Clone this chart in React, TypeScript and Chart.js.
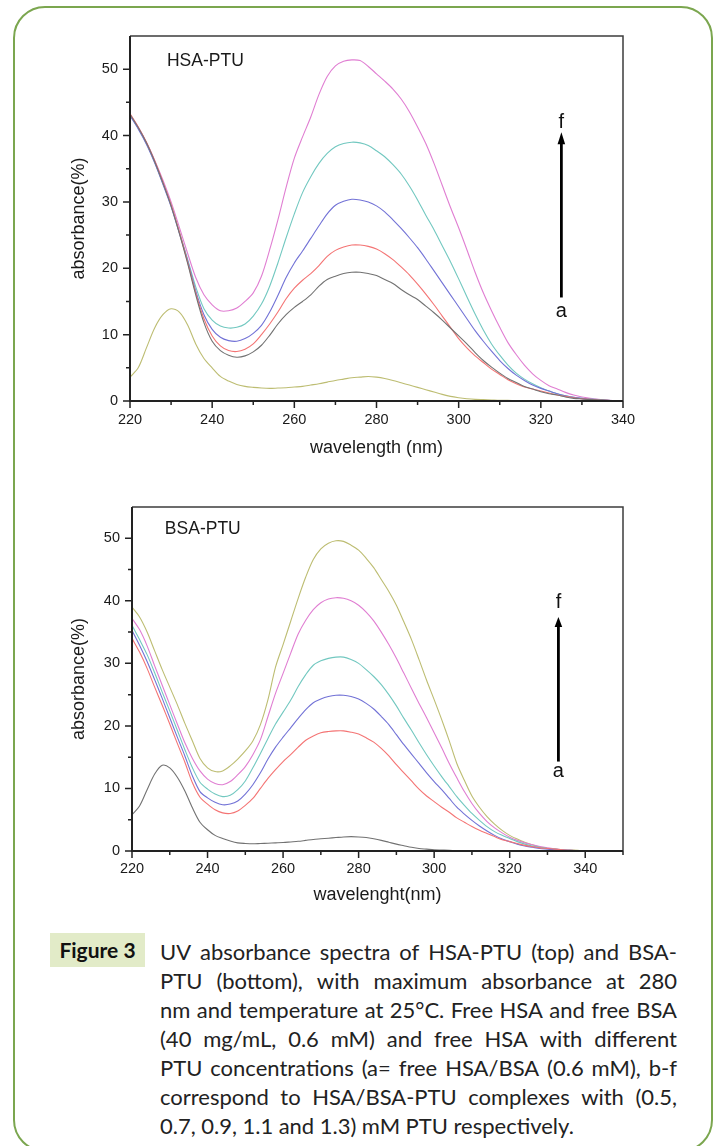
import React, { useEffect, useRef } from "react";
import { Chart, registerables } from "chart.js";

Chart.register(...registerables);

// ---------------- DATA ----------------
const wavelengths = [
  220, 222, 224, 226, 228, 230, 232, 234, 236, 238,
  240, 242, 244, 246, 248, 250, 252, 254, 256, 258,
  260, 262, 264, 266, 268, 270, 272, 274, 276, 278,
  280, 282, 284, 286, 288, 290, 292, 294, 296, 298,
  300, 302, 304, 306, 308, 310, 312, 314, 316, 318,
  320, 322, 324, 326, 328, 330, 332, 334, 336, 338,
  340,
];

// HSA-PTU (top panel)
const hsaA = [
  43.2, 41.2, 38.9, 36.1, 32.9, 29.4, 25.3, 20.8, 16.0, 11.8,
  9.0, 7.6, 6.9, 6.6, 6.8, 7.4, 8.4, 9.9, 11.6, 13.0,
  14.1, 15.0, 16.0, 17.3, 18.3, 18.8, 19.2, 19.4, 19.4, 19.2,
  18.9, 18.3, 17.7, 16.8, 16.0, 15.3, 14.3, 13.3, 12.2, 11.0,
  9.8, 8.6, 7.3, 6.1, 5.1, 4.2, 3.4, 2.8, 2.2, 1.8,
  1.4, 1.1, 0.9, 0.6, 0.4, 0.3, 0.2, 0.15, 0.1, 0.05,
  0,
];
const hsaB = [
  43.3, 41.3, 39.0, 36.2, 33.0, 29.6, 25.5, 21.0, 16.3, 12.4,
  9.8, 8.3, 7.6, 7.45, 7.8, 8.6, 10.0, 11.6, 13.4, 15.4,
  17.0, 18.2, 19.2, 20.4, 21.8, 22.7, 23.2, 23.5, 23.5, 23.3,
  22.9, 22.2, 21.3, 20.2, 19.0, 17.6, 16.1, 14.5, 12.8, 11.1,
  9.4, 8.0, 6.8, 5.8, 4.8, 4.0, 3.2, 2.6, 2.1, 1.8,
  1.5, 1.2, 0.9, 0.7, 0.5, 0.35, 0.25, 0.15, 0.1, 0.05,
  0,
];
const hsaC = [
  43.0, 41.0, 38.7, 35.9, 32.7, 29.3, 25.3, 21.2, 16.6, 13.0,
  10.8, 9.6, 9.1, 9.0, 9.4, 10.2, 11.4, 13.4, 15.9, 18.6,
  20.8, 22.6, 24.5, 26.4, 28.2, 29.5, 30.1, 30.4, 30.3, 30.0,
  29.4, 28.5, 27.3, 26.0, 24.6, 23.1, 21.4, 19.6, 17.8, 16.0,
  14.2, 12.4, 10.6, 9.0, 7.5, 6.1, 4.9, 3.9, 3.1, 2.4,
  1.9, 1.5, 1.1, 0.8, 0.55, 0.4, 0.25, 0.15, 0.1, 0.05,
  0,
];
const hsaD = [
  43.1, 41.1, 38.8, 36.0, 32.8, 29.5, 25.5, 21.4, 17.2, 13.9,
  12.2, 11.3, 11.0, 11.1, 11.6, 12.8, 14.6, 17.3, 20.8, 24.6,
  28.2, 31.4, 33.8, 35.8, 37.3, 38.3, 38.8, 39.0, 38.9, 38.5,
  37.7, 36.8, 35.6, 34.2, 32.4, 30.3, 28.0, 25.8, 23.4, 21.0,
  18.4, 15.7, 13.1, 10.7, 8.6, 6.9, 5.4, 4.2, 3.3, 2.6,
  2.0, 1.5, 1.1, 0.8, 0.55, 0.4, 0.3, 0.2, 0.1, 0.05,
  0,
];
const hsaE = [
  43.2, 41.3, 39.0, 36.3, 33.3, 30.0, 26.2, 22.3, 18.6, 16.0,
  14.5, 13.6, 13.6, 14.0, 15.0, 16.3, 18.8, 22.8, 27.3, 32.2,
  36.6, 39.8, 42.8, 46.2, 48.9, 50.5, 51.2, 51.4, 51.3, 50.4,
  49.3, 48.2, 47.0, 45.5, 43.6, 41.3, 38.8, 35.8, 32.5, 29.2,
  26.1, 22.8, 19.4, 16.3, 13.6, 11.1, 8.8, 7.0, 5.4, 4.1,
  3.1, 2.3, 1.8, 1.3, 0.9, 0.6, 0.4, 0.25, 0.15, 0.05,
  0,
];
const hsaLow = [
  3.6, 5.0, 8.0, 11.0, 13.0, 13.9, 13.4, 11.5, 8.6, 6.4,
  5.0, 3.7, 3.0, 2.5, 2.2, 2.05, 1.95, 1.9, 1.95, 2.0,
  2.1, 2.2, 2.4, 2.6, 2.85, 3.1, 3.3, 3.5, 3.6, 3.7,
  3.6, 3.4, 3.1, 2.75, 2.4, 2.05, 1.7, 1.35, 1.0, 0.7,
  0.5, 0.35, 0.25, 0.2, 0.15, 0.1, 0.1, 0.05, 0.05, 0,
  0, 0, 0, 0, 0, 0, 0, 0, 0, 0,
  0,
];

// BSA-PTU (bottom panel)
const bsaLow = [
  5.8, 7.2, 9.8, 12.3, 13.7, 13.3, 11.8, 9.6, 6.9, 4.6,
  3.4, 2.5, 2.0, 1.6, 1.3, 1.2, 1.15, 1.2, 1.25, 1.3,
  1.35, 1.45, 1.55, 1.7, 1.85, 1.95, 2.05, 2.15, 2.25, 2.3,
  2.25, 2.15, 1.95, 1.7, 1.4, 1.1, 0.85, 0.6, 0.4, 0.3,
  0.2, 0.15, 0.1, 0, 0, 0, 0, 0, 0, 0,
  0, 0, 0, 0, 0, 0, 0, 0, 0, 0,
  0,
];
const bsaB = [
  34.0, 31.8, 29.2, 26.2, 23.3, 20.3, 17.2, 14.2, 10.9, 8.6,
  7.5, 6.6, 6.1, 6.0, 6.4, 7.3, 8.4, 10.0, 11.6, 13.0,
  14.3, 15.4, 16.6, 17.7, 18.4, 18.9, 19.1, 19.2, 19.2, 19.0,
  18.7, 18.1, 17.4, 16.4, 15.2, 13.8, 12.5, 11.2, 9.9, 8.8,
  7.9, 7.0, 6.2, 5.3, 4.6, 3.9, 3.3, 2.8, 2.3, 1.8,
  1.5, 1.2, 0.9, 0.7, 0.5, 0.4, 0.3, 0.2, 0.1, 0.05,
  0,
];
const bsaC = [
  35.3, 32.9, 30.3, 27.4, 24.4, 21.3, 18.2, 15.2, 12.0, 9.5,
  8.5, 7.8, 7.4, 7.5, 8.0, 9.1, 10.6, 12.5, 14.7, 16.6,
  18.2, 19.7, 21.2, 22.6, 23.7, 24.3, 24.7, 24.9, 24.9, 24.7,
  24.3, 23.6, 22.7, 21.5, 20.2, 18.6, 17.0, 15.5, 14.0, 12.5,
  11.1, 9.8, 8.4, 7.0, 5.9, 4.9, 4.0, 3.2, 2.5, 1.9,
  1.5, 1.1, 0.8, 0.6, 0.4, 0.3, 0.2, 0.15, 0.1, 0.05,
  0,
];
const bsaD = [
  36.1, 33.8, 31.4, 28.5, 25.4, 22.4, 19.3, 16.2, 13.3, 11.0,
  9.9, 9.1, 8.7, 8.9, 9.8, 11.2, 13.3, 15.6, 18.0, 20.3,
  22.2, 24.1, 26.3, 28.2, 29.7, 30.4, 30.8, 31.0, 31.0, 30.6,
  30.0, 29.0, 27.9, 26.6, 25.0, 23.2, 21.2, 19.3, 17.3, 15.4,
  13.6, 11.9, 10.3, 8.7, 7.3, 6.0, 4.9, 3.9, 3.1, 2.5,
  2.0, 1.5, 1.1, 0.8, 0.6, 0.4, 0.3, 0.2, 0.1, 0.05,
  0,
];
const bsaE = [
  37.2, 35.4, 32.8, 29.6, 26.5, 23.4, 20.3, 17.3, 14.8, 12.8,
  11.5, 10.8, 10.6, 11.1, 12.2, 13.5, 15.4, 17.8, 21.5, 25.2,
  28.4, 31.6, 34.7, 36.9, 38.6, 39.7, 40.3, 40.5, 40.4, 40.0,
  39.3, 38.2, 36.8, 35.0, 33.0, 30.8, 28.4, 26.0, 23.6, 21.3,
  18.9, 16.5, 14.0, 11.7, 9.5, 7.6, 6.0, 4.7, 3.7, 2.9,
  2.2, 1.7, 1.3, 1.0, 0.7, 0.5, 0.35, 0.2, 0.1, 0.05,
  0,
];
const bsaF = [
  39.0, 37.4, 35.0, 32.0, 29.0, 26.2, 23.4, 20.4, 17.6, 14.8,
  13.3, 12.7, 12.8, 13.6, 14.7, 16.0, 17.6, 20.2, 24.2, 29.4,
  33.0, 36.7, 40.4, 43.8, 46.6, 48.3, 49.2, 49.6, 49.5, 48.9,
  48.1, 46.8, 45.3, 43.4, 41.5, 39.3, 36.6, 33.8, 30.6, 27.3,
  24.2, 21.0, 17.6, 14.0, 11.3, 8.8, 7.0, 5.5, 4.3, 3.3,
  2.5, 1.9, 1.4, 1.0, 0.6, 0.4, 0.3, 0.2, 0.15, 0.1,
  0,
];

const yTickValues = [0, 10, 20, 30, 40, 50];
const xTickValues = [220, 240, 260, 280, 300, 320, 340];

const captionLines = [
  "UV absorbance spectra of HSA-PTU (top) and BSA-",
  "PTU (bottom), with maximum absorbance at 280",
  "nm and temperature at 25°C. Free HSA and free BSA",
  "(40 mg/mL, 0.6 mM) and free HSA with different",
  "PTU concentrations (a= free HSA/BSA (0.6 mM), b-f",
  "correspond to HSA/BSA-PTU complexes with (0.5,",
  "0.7, 0.9, 1.1 and 1.3) mM PTU respectively.",
];

// ---------------- STYLE ----------------
const FONT = '"Liberation Sans", Arial, Helvetica, sans-serif';
const COLORS = {
  gray: "#727272",
  red: "#f47474",
  blue: "#7272d6",
  teal: "#72c8c0",
  pink: "#e07ed2",
  olive: "#bdbd72",
};

type Series = { name: string; values: number[]; color: string };
type PanelSpec = {
  id: string;
  series: Series[];
  xMax: number;
  xTitle: string;
  label: string;
  labelX: number;
  labelY: number;
  arrowX: number;
  arrowTip: number;
  arrowBase: number;
  headLen: number;
  fY: number;
  aY: number;
  padTop: number;
  padRight: number;
  yAxisWidth: number;
  xAxisHeight: number;
  xTickPad: number;
  xTitlePad: number;
  yTitlePad: number;
};

const topPanel: PanelSpec = {
  id: "hsa",
  series: [
    { name: "HSA low", values: hsaLow, color: COLORS.olive },
    { name: "a", values: hsaA, color: COLORS.gray },
    { name: "b", values: hsaB, color: COLORS.red },
    { name: "c", values: hsaC, color: COLORS.blue },
    { name: "d", values: hsaD, color: COLORS.teal },
    { name: "e", values: hsaE, color: COLORS.pink },
  ],
  xMax: 340,
  xTitle: "wavelength (nm)",
  label: "HSA-PTU",
  labelX: 229,
  labelY: 51.2,
  arrowX: 325,
  arrowTip: 40.5,
  arrowBase: 15.6,
  headLen: 12,
  fY: 41.2,
  aY: 12.7,
  padTop: 16,
  padRight: 37,
  yAxisWidth: 90,
  xAxisHeight: 69,
  xTickPad: 2,
  xTitlePad: 11,
  yTitlePad: 28,
};

const bottomPanel: PanelSpec = {
  id: "bsa",
  series: [
    { name: "a", values: bsaLow, color: COLORS.gray },
    { name: "b", values: bsaB, color: COLORS.red },
    { name: "c", values: bsaC, color: COLORS.blue },
    { name: "d", values: bsaD, color: COLORS.teal },
    { name: "e", values: bsaE, color: COLORS.pink },
    { name: "f", values: bsaF, color: COLORS.olive },
  ],
  xMax: 350,
  xTitle: "wavelenght(nm)",
  label: "BSA-PTU",
  labelX: 228.7,
  labelY: 51.4,
  arrowX: 332.9,
  arrowTip: 37.4,
  arrowBase: 14.3,
  headLen: 10,
  fY: 38.8,
  aY: 11.8,
  padTop: 17,
  padRight: 37,
  yAxisWidth: 92,
  xAxisHeight: 59,
  xTickPad: 1,
  xTitlePad: 4,
  yTitlePad: 28,
};

function decorPlugin(spec: PanelSpec) {
  return {
    id: "decor-" + spec.id,
    afterDatasetsDraw(chart: any) {
      const { ctx, chartArea: ca, scales } = chart;
      const xs = scales.x;
      const ys = scales.y;
      ctx.save();
      // frame: top & right
      ctx.strokeStyle = "#3c3c3c";
      ctx.lineWidth = 1.5;
      ctx.beginPath();
      ctx.moveTo(ca.left, ca.top);
      ctx.lineTo(ca.right, ca.top);
      ctx.lineTo(ca.right, ca.bottom);
      ctx.stroke();
      // axes: left & bottom
      ctx.strokeStyle = "#222";
      ctx.lineWidth = 2;
      ctx.beginPath();
      ctx.moveTo(ca.left, ca.top);
      ctx.lineTo(ca.left, ca.bottom);
      ctx.lineTo(ca.right, ca.bottom);
      ctx.stroke();
      // tick marks
      ctx.lineWidth = 1.5;
      ctx.beginPath();
      ys.ticks.forEach((t: any) => {
        if (t.value > 50) return;
        const p = ys.getPixelForValue(t.value);
        const len = yTickValues.includes(t.value) ? 7 : 4;
        ctx.moveTo(ca.left - len, p);
        ctx.lineTo(ca.left, p);
      });
      xs.ticks.forEach((t: any) => {
        const p = xs.getPixelForValue(t.value);
        const len = xTickValues.includes(t.value) ? 7 : 4;
        ctx.moveTo(p, ca.bottom);
        ctx.lineTo(p, ca.bottom + len);
      });
      ctx.stroke();

      // panel label
      ctx.fillStyle = "#1a1a1a";
      ctx.font = `17.5px ${FONT}`;
      ctx.textAlign = "left";
      ctx.textBaseline = "middle";
      ctx.fillText(spec.label, xs.getPixelForValue(spec.labelX), ys.getPixelForValue(spec.labelY));

      // arrow a -> f
      const ax = xs.getPixelForValue(spec.arrowX);
      const tip = ys.getPixelForValue(spec.arrowTip);
      const base = ys.getPixelForValue(spec.arrowBase);
      ctx.strokeStyle = "#000";
      ctx.lineWidth = 2.8;
      ctx.beginPath();
      ctx.moveTo(ax, base);
      ctx.lineTo(ax, tip + spec.headLen - 1);
      ctx.stroke();
      ctx.fillStyle = "#000";
      ctx.beginPath();
      ctx.moveTo(ax, tip);
      ctx.lineTo(ax - 3.8, tip + spec.headLen);
      ctx.lineTo(ax + 3.8, tip + spec.headLen);
      ctx.closePath();
      ctx.fill();

      ctx.font = `20px ${FONT}`;
      ctx.textAlign = "center";
      ctx.textBaseline = "alphabetic";
      ctx.fillStyle = "#111";
      ctx.fillText("f", ax, ys.getPixelForValue(spec.fY));
      ctx.fillText("a", ax, ys.getPixelForValue(spec.aY));
      ctx.restore();
    },
  };
}

function SpectrumPanel({
  spec,
  left,
  top,
  width,
  height,
}: {
  spec: PanelSpec;
  left: number;
  top: number;
  width: number;
  height: number;
}) {
  const ref = useRef<HTMLCanvasElement | null>(null);
  useEffect(() => {
    const canvas = ref.current;
    if (!canvas) return;
    const datasets = spec.series.map((s) => ({
      label: s.name,
      data: wavelengths.map((w, i) => ({ x: w, y: s.values[i] })),
      borderColor: s.color,
      backgroundColor: s.color,
      borderWidth: 1.1,
      pointRadius: 0,
      fill: false,
      tension: 0.3,
    }));
    const chart = new Chart(canvas, {
      type: "line",
      data: { datasets },
      options: {
        responsive: false,
        maintainAspectRatio: false,
        animation: false,
        devicePixelRatio: 1,
        layout: { padding: { top: spec.padTop, right: spec.padRight, left: 0, bottom: 0 } },
        plugins: { legend: { display: false }, tooltip: { enabled: false } },
        scales: {
          x: {
            type: "linear",
            min: 220,
            max: spec.xMax,
            grid: { display: false },
            border: { display: false },
            ticks: {
              stepSize: 10,
              autoSkip: false,
              maxRotation: 0,
              padding: spec.xTickPad,
              color: "#1a1a1a",
              font: { family: FONT, size: 14.5 },
              callback: (v: any) => (xTickValues.includes(Math.round(Number(v))) ? String(Math.round(Number(v))) : ""),
            },
            title: {
              display: true,
              text: spec.xTitle,
              color: "#1a1a1a",
              font: { family: FONT, size: 18, lineHeight: 1.2 },
              padding: { top: 0, bottom: spec.xTitlePad },
            },
            afterFit: (s: any) => {
              s.height = spec.xAxisHeight;
            },
          },
          y: {
            type: "linear",
            min: 0,
            max: 55,
            grid: { display: false },
            border: { display: false },
            ticks: {
              stepSize: 5,
              autoSkip: false,
              padding: 4,
              color: "#1a1a1a",
              font: { family: FONT, size: 14.5 },
              callback: (v: any) => (yTickValues.includes(Math.round(Number(v))) ? String(Math.round(Number(v))) : ""),
            },
            title: {
              display: true,
              text: "absorbance(%)",
              color: "#1a1a1a",
              font: { family: FONT, size: 18, lineHeight: 1.2 },
              padding: { top: spec.yTitlePad, bottom: 0 },
            },
            afterFit: (s: any) => {
              s.width = spec.yAxisWidth;
            },
          },
        },
      },
      plugins: [decorPlugin(spec)],
    } as any);
    return () => chart.destroy();
  }, [spec]);
  return (
    <canvas
      ref={ref}
      width={width}
      height={height}
      style={{ position: "absolute", left, top, width, height }}
    />
  );
}

function CaptionLine({ text, top, justify }: { text: string; top: number; justify: boolean }) {
  const words = text.split(" ");
  return (
    <div
      style={{
        position: "absolute",
        left: 160,
        top,
        width: 517,
        height: 29,
        lineHeight: "29px",
        display: "flex",
        justifyContent: justify ? "space-between" : "flex-start",
        whiteSpace: "nowrap",
        fontFamily: "Lato, 'Open Sans', sans-serif",
        fontSize: 22,
        color: "#222",
        gap: justify ? 0 : "0.25em",
      }}
    >
      {words.map((w, i) => (
        <span key={i}>{w}</span>
      ))}
    </div>
  );
}

export default function App() {
  return (
    <div
      style={{
        position: "absolute",
        left: 0,
        top: 0,
        width: 717,
        height: 1146,
        overflow: "hidden",
        background: "#ffffff",
      }}
    >
      <div
        style={{
          position: "absolute",
          left: 13,
          top: 6,
          width: 700,
          height: 1146,
          border: "2px solid #7ba64f",
          borderRadius: 32,
          boxSizing: "border-box",
        }}
      />
      <SpectrumPanel spec={topPanel} left={40} top={20} width={620} height={450} />
      <SpectrumPanel spec={bottomPanel} left={40} top={490} width={620} height={420} />
      <div
        style={{
          position: "absolute",
          left: 50,
          top: 933,
          width: 95,
          height: 34,
          background: "#e2ebc8",
          fontFamily: "Lato, 'Open Sans', sans-serif",
          fontWeight: 700,
          fontSize: 21,
          lineHeight: "34px",
          textAlign: "center",
          color: "#111",
        }}
      >
        Figure 3
      </div>
      {captionLines.map((line, i) => (
        <CaptionLine
          key={i}
          text={line}
          top={937 + i * 29}
          justify={i < captionLines.length - 1}
        />
      ))}
    </div>
  );
}
